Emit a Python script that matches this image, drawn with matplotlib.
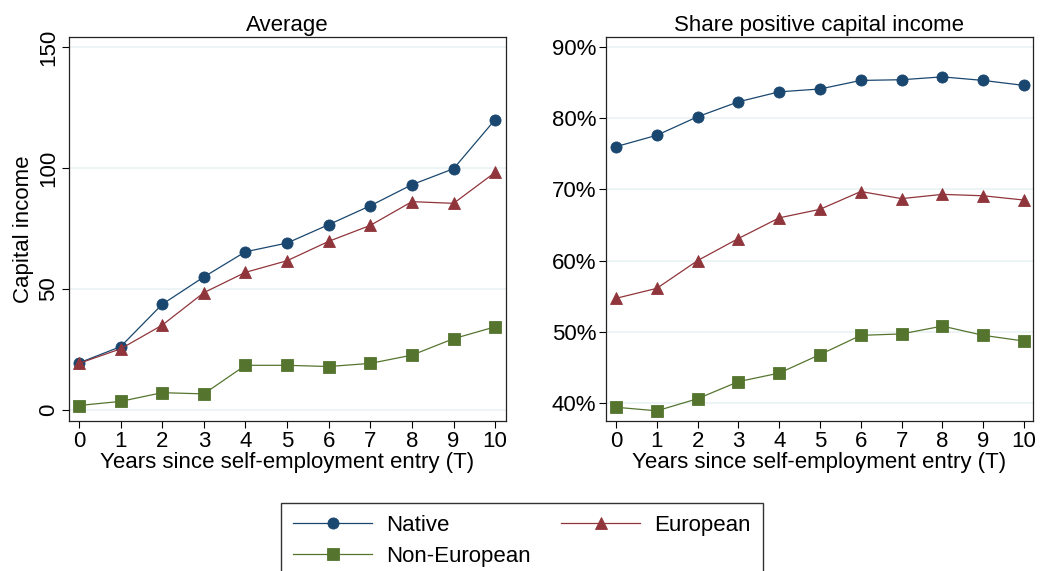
import matplotlib.pyplot as plt
from matplotlib.ticker import FuncFormatter

plt.rcParams["font.family"] = ["Liberation Sans", "DejaVu Sans"]

YEARS = list(range(11))

AVG_NATIVE = [19.5, 26.2, 43.7, 55.0, 65.4, 69.0, 76.6, 84.4, 93.1, 99.7, 120.0]
AVG_EUROPEAN = [19.3, 25.3, 35.1, 48.5, 56.9, 61.7, 69.7, 76.3, 86.1, 85.4, 98.2]
AVG_NONEU = [1.9, 3.6, 7.2, 6.7, 18.5, 18.5, 18.0, 19.3, 22.7, 29.5, 34.4]

SHARE_NATIVE = [76.0, 77.6, 80.2, 82.3, 83.7, 84.1, 85.3, 85.4, 85.8, 85.3, 84.6]
SHARE_EUROPEAN = [54.7, 56.1, 60.0, 63.1, 66.0, 67.2, 69.7, 68.7, 69.3, 69.1, 68.5]
SHARE_NONEU = [39.4, 38.9, 40.6, 43.0, 44.2, 46.8, 49.5, 49.7, 50.8, 49.5, 48.7]

LEFT_TICKS = [0, 50, 100, 150]
RIGHT_TICKS = [40, 50, 60, 70, 80, 90]

SERIES = [
    ("Native", "#1a476f", "o"),
    ("European", "#90353b", "^"),
    ("Non-European", "#55752f", "s"),
]

FS = 16
GRID = "#eaf2f3"

fig = plt.figure(figsize=(10.4, 5.71), dpi=100)
fig.patch.set_facecolor("white")

W, H = 1040, 571
ax1 = fig.add_axes([69 / W, 1 - 421 / H, (506 - 69) / W, (421 - 37) / H])
ax2 = fig.add_axes([606 / W, 1 - 421 / H, (1033 - 606) / W, (421 - 37) / H])


def draw(ax, data):
    handles = []
    for (name, color, marker), vals in zip(SERIES, data):
        (h,) = ax.plot(YEARS, vals, color=color, marker=marker, markersize=8,
                       linewidth=0.9, markeredgewidth=0.6,
                       markeredgecolor=color, label=name, zorder=3)
        handles.append(h)
    ax.set_xticks(YEARS)
    ax.tick_params(axis="both", labelsize=FS, direction="out", length=5,
                   width=0.8, color="black", pad=2)
    ax.yaxis.grid(True, color=GRID, linewidth=1.2, zorder=0)
    ax.set_axisbelow(True)
    for s in ax.spines.values():
        s.set_linewidth(0.9)
        s.set_color("#222222")
    ax.set_xlabel("Years since self-employment entry (T)", fontsize=FS, labelpad=0)
    return handles


handles = draw(ax1, [AVG_NATIVE, AVG_EUROPEAN, AVG_NONEU])
ax1.set_xlim(-0.24, 10.26)
ax1.set_ylim(-4.5, 154.1)
ax1.set_yticks(LEFT_TICKS)
for lbl in ax1.get_yticklabels():
    lbl.set_rotation(90)
    lbl.set_va("center")
ax1.set_ylabel("Capital income", fontsize=FS, labelpad=3)
ax1.set_title("Average", fontsize=FS, pad=4)

draw(ax2, [SHARE_NATIVE, SHARE_EUROPEAN, SHARE_NONEU])
ax2.set_xlim(-0.245, 10.22)
ax2.set_ylim(37.47, 91.4)
ax2.set_yticks(RIGHT_TICKS)
ax2.yaxis.set_major_formatter(FuncFormatter(lambda v, _: f"{v:.0f}%"))
ax2.set_title("Share positive capital income", fontsize=FS, pad=4)

leg = fig.legend(
    [handles[0], handles[2], handles[1]],
    ["Native", "Non-European", "European"],
    loc="upper center",
    bbox_to_anchor=(522 / W, 1 - 503 / H),
    ncol=2,
    fontsize=FS,
    frameon=True,
    fancybox=False,
    edgecolor="black",
    handlelength=3.55,
    columnspacing=1.35,
    handletextpad=0.65,
    labelspacing=0.45,
    borderpad=0.55,
    borderaxespad=0,
)
leg.get_frame().set_linewidth(1.0)

fig.savefig("out.png", dpi=100)
